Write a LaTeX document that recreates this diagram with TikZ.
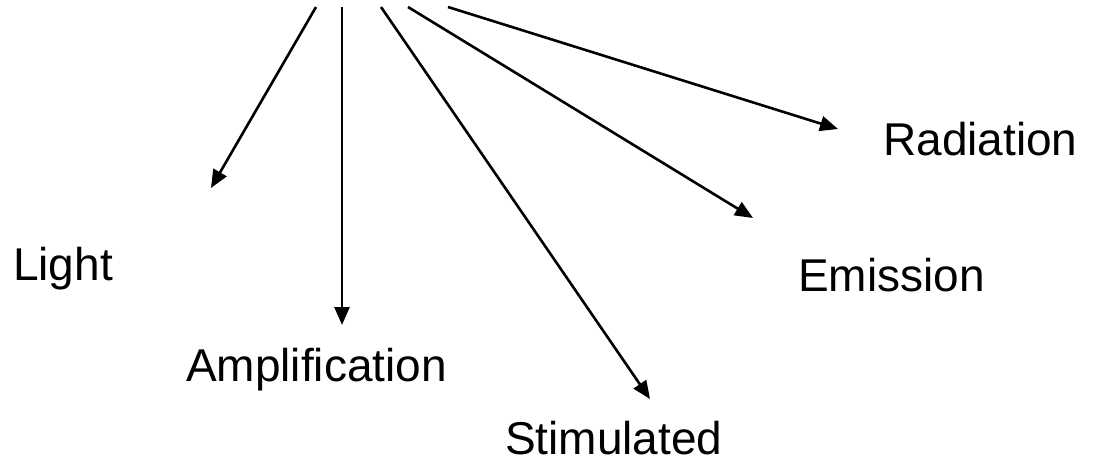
\documentclass[tikz,border=0pt]{standalone}
\usepackage{fontspec}
\setmainfont{Liberation Sans}
\usetikzlibrary{arrows.meta}
\usetikzlibrary{positioning}

\begin{document}
\begin{tikzpicture}[x=1pt,y=-1pt,
word/.style={anchor=base west,inner sep=0pt,font=\fontsize{46}{55}\selectfont},
ray/.style={line width=2.6pt,-{Triangle[length=18pt,width=15pt]}}]
\useasboundingbox (0,0) rectangle (1115,463);

% labels
\node[word] (light) at (13,280) {Light};
\node[word] (amp) at (186,381) {Amplification};
\node[word] (stim) at (505,454) {Stimulated};
\node[word] (emis) at (798,291) {Emission};
\node[word] (rad) at (883,155) {Radiation};

% start and end of the rays
\coordinate (s1) at (316,7);
\coordinate (s2) at (342,7);
\coordinate (s3) at (381,7);
\coordinate (s4) at (408,7);
\coordinate (s5) at (448,7);
\coordinate (t1) at (211,188);
\coordinate (t2) at (342,325);
\coordinate (t3) at (650,399);
\coordinate (t4) at (753,218);
\coordinate (t5) at (838,129);

\foreach \i in {1,...,5}
  \draw[ray] (s\i) -- (t\i);

\end{tikzpicture}
\end{document}
